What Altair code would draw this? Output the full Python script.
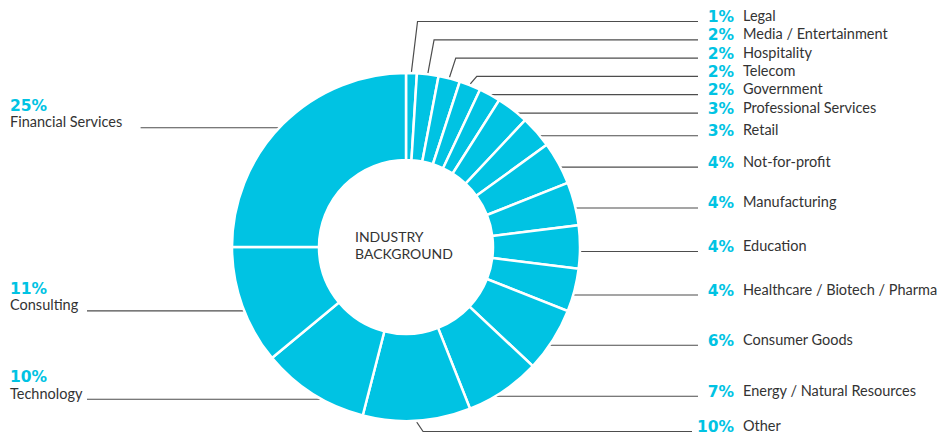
import math
import altair as alt
import pandas as pd

# ---------------- data ----------------
categories = [
    "Legal", "Media / Entertainment", "Hospitality", "Telecom", "Government",
    "Professional Services", "Retail", "Not-for-profit", "Manufacturing",
    "Education", "Healthcare / Biotech / Pharma", "Consumer Goods",
    "Energy / Natural Resources", "Other", "Technology", "Consulting",
    "Financial Services",
]
shares = [1, 2, 2, 2, 2, 3, 3, 4, 4, 4, 4, 6, 7, 10, 10, 11, 25]
center_title = "INDUSTRY\nBACKGROUND"

# ---------------- style / layout ----------------
CYAN = "#00C3E3"
TEXT = "#333333"
LINE = "#4d4d4d"
W, H = 934, 428            # plot area (page coords 8..942, 8..436)
CX, CY = 406, 247          # donut centre (page coords)
R_OUT, R_IN = 174, 87
R_LABEL, R_EDGE, R_HIDDEN = 175, 176, 160
GAP = 19.3                 # preferred vertical spacing of right labels
GAP_MIN = 18.3             # minimum spacing when pushed from the top
TOP_Y = 17                 # highest allowed label centre
BOTTOM_CLEAR = 6           # labels under the ring sit this far below it
LINE_DY = 4.5              # leader line sits just under text centre
RIGHT_PCT_X, RIGHT_NAME_X = 734, 743
LEFT_X = 10
CHAR_W = 6.7

xs = alt.Scale(domain=[8, 8 + W], range=[0, W], nice=False, zero=False)
ys = alt.Scale(domain=[8, 8 + H], range=[0, H], nice=False, zero=False)

total = sum(shares)
cum = 0
info = []
for i, (c, v) in enumerate(zip(categories, shares)):
    a = 2 * math.pi * (cum + v / 2) / total
    cum += v
    ideal = CY - R_LABEL * math.cos(a)
    if abs(math.sin(a)) < 0.15 and math.cos(a) < 0:
        ideal = max(ideal, CY + R_OUT + BOTTOM_CLEAR)
    info.append(dict(idx=i, name=c, share=v, pct=f"{v}%", a=a,
                     side="right" if a < math.pi else "left", ideal=ideal))

# right labels: relax upward from the bottom, then clamp at the top
right = [d for d in info if d["side"] == "right"]
nxt = None
for d in reversed(right):
    d["ty"] = d["ideal"] if nxt is None else min(d["ideal"], nxt - GAP)
    nxt = d["ty"]
prev = None
for d in right:
    d["ty"] = max(d["ty"], TOP_Y if prev is None else prev + GAP_MIN)
    prev = d["ty"]
left = [d for d in info if d["side"] == "left"]
for d in left:
    d["ty"] = d["ideal"]

line_rows = []
for d in info:
    a = d["a"]
    s = 1 if d["side"] == "right" else -1
    ly = d["ty"] + LINE_DY
    pin = (CX + R_HIDDEN * math.sin(a), CY - R_HIDDEN * math.cos(a))
    pedge = (CX + R_EDGE * math.sin(a), CY - R_EDGE * math.cos(a))
    if s > 0:
        xend = 698 - 6 * (len(d["pct"]) - 2)
    else:
        xend = LEFT_X + CHAR_W * len(d["name"]) + 10
    if abs(ly - pedge[1]) <= 7 and abs(ly - CY) < 170:
        pts = [(pin[0], ly), (xend, ly)]
    else:
        pts = [pin, pedge, (pedge[0] + s * 6, ly), (xend, ly)]
    for k, (px, py) in enumerate(pts):
        line_rows.append(dict(name=d["name"], pt=k, lx=px, ly=py))

line_df = pd.DataFrame(line_rows)
arc_df = pd.DataFrame([dict(idx=d["idx"], name=d["name"], share=d["share"],
                            cx=CX, cy=CY) for d in info])
rpct_df = pd.DataFrame([dict(x=RIGHT_PCT_X, y=d["ty"], t=d["pct"]) for d in right])
lpct_df = pd.DataFrame([dict(x=LEFT_X, y=d["ty"] - 17.5, t=d["pct"]) for d in left])
name_df = pd.DataFrame(
    [dict(x=RIGHT_NAME_X, y=d["ty"], t=d["name"]) for d in right]
    + [dict(x=LEFT_X, y=d["ty"], t=d["name"]) for d in left]
)
center_df = pd.DataFrame([dict(x=CX - 51, y=CY - 9.5, t=center_title)])


def X(f):
    return alt.X(f, type="quantitative", scale=xs, axis=None)


def Y(f):
    return alt.Y(f, type="quantitative", scale=ys, axis=None)


lines = alt.Chart(line_df).mark_line(color=LINE, strokeWidth=1.2).encode(
    x=X("lx"), y=Y("ly"), detail="name:N", order="pt:Q"
)

arcs = alt.Chart(arc_df).mark_arc(
    innerRadius=R_IN, outerRadius=R_OUT, stroke="white", strokeWidth=2.5, color=CYAN
).encode(
    theta=alt.Theta("share:Q", stack=True),
    order=alt.Order("idx:Q"),
    x=X("cx"), y=Y("cy"),
)

pct_style = dict(baseline="middle", font="DejaVu Sans", fontWeight="bold",
                 fontSize=15.5, color=CYAN)
pct_r = alt.Chart(rpct_df).mark_text(align="right", **pct_style).encode(
    x=X("x"), y=Y("y"), text="t:N")
pct_l = alt.Chart(lpct_df).mark_text(align="left", **pct_style).encode(
    x=X("x"), y=Y("y"), text="t:N")

names = alt.Chart(name_df).mark_text(
    align="left", baseline="middle", font="Lato", fontSize=14.5, color=TEXT
).encode(x=X("x"), y=Y("y"), text="t:N")

center = alt.Chart(center_df).mark_text(
    align="left", baseline="middle", font="Lato", fontSize=14, color=TEXT,
    lineBreak="\n", lineHeight=17
).encode(x=X("x"), y=Y("y"), text="t:N")

chart = alt.layer(lines, arcs, pct_r, pct_l, names, center).properties(
    width=W, height=H, padding=0, autosize=alt.AutoSizeParams(type="none")
).configure_view(stroke=None)

chart.save("out.html", embed_options={"renderer": "svg", "actions": False})
